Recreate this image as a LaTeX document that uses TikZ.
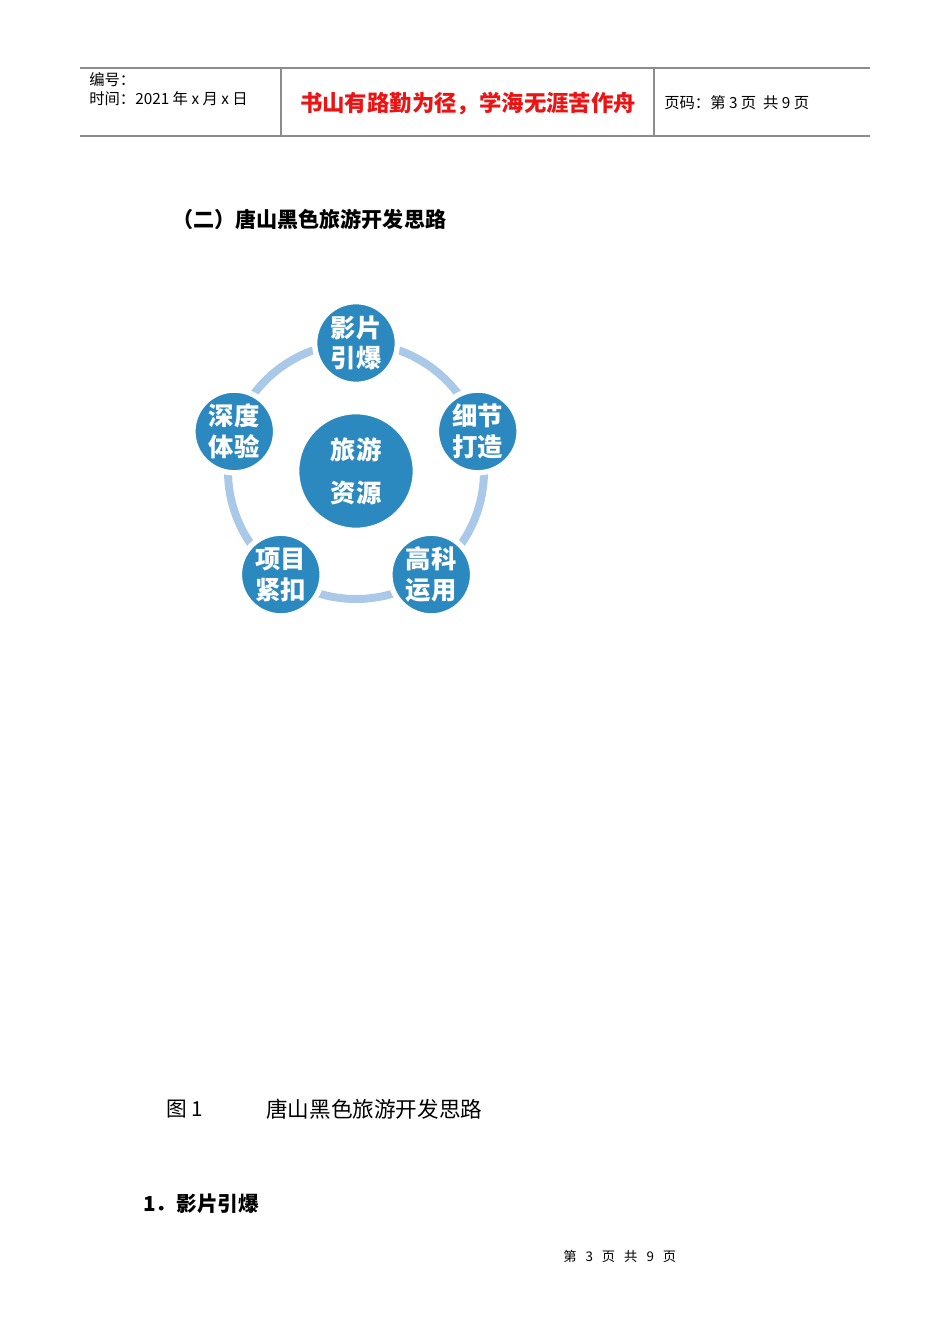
\documentclass[tikz,border=0pt]{standalone}
\usepackage{fontspec}
\setmainfont{Noto Sans CJK SC}
\usetikzlibrary{calc}
\definecolor{petalblue}{RGB}{44,137,192}
\definecolor{ringblue}{RGB}{170,200,232}
\definecolor{rulegrey}{RGB}{140,140,140}
\definecolor{mottored}{RGB}{235,20,20}
\tikzset{
	petal/.style={circle, fill=petalblue, draw=white, line width=4, minimum size=62pt, inner sep=0pt,
		text=white, align=center, font=\fontsize{19}{23}\selectfont\bfseries},
	hub/.style={circle, fill=petalblue, draw=white, line width=2, minimum size=87pt, inner sep=0pt,
		text=white, align=center, font=\fontsize{19}{32}\selectfont\bfseries},
	plain/.style={anchor=west, inner sep=0pt}
}
\begin{document}
\begin{tikzpicture}[x=0.75pt, y=-0.75pt]
		\useasboundingbox (0,0) rectangle (950,1344);
		% header
		\draw[rulegrey, line width=0.8] (80,68) -- (870,68);
		\draw[rulegrey, line width=1.5] (80,136) -- (870,136);
		\draw[rulegrey, line width=0.8] (281,68) -- (281,136);
		\draw[rulegrey, line width=0.8] (654,68) -- (654,136);
		\node[plain, font=\fontsize{11.5}{13}\selectfont] (num) at (89,80) {编号：};
		\node[plain, font=\fontsize{11.5}{13}\selectfont] (date) at (89,99) {时间：2021\ 年\ x\ 月\ x\ 日};
		\node[inner sep=0pt, text=mottored, font=\fontsize{16.8}{19}\selectfont\bfseries] (motto) at (468,104) {书山有路勤为径，学海无涯苦作舟};
		\node[plain, font=\fontsize{11.5}{13}\selectfont] (page) at (664,103) {页码：第 3 页\ \ 共 9 页};
		% title
		\node[plain, font=\fontsize{15.8}{18}\selectfont\bfseries] (title) at (172,219) {（二）唐山黑色旅游开发思路};
		% diagram
		\coordinate (c) at (356,471);
		\draw[ringblue, line width=6] (c) circle (128);
		\node[hub] (hub) at (c) {旅游\\资源};
		\foreach \txt [count=\i] in {影片\\引爆, 细节\\打造, 高科\\运用, 项目\\紧扣, 深度\\体验} {
			\node[petal] (p-\i) at ($(c)+({72*\i-162}:128)$) {\txt};
		}
		% caption and text
		\node[plain, font=\fontsize{15.5}{18}\selectfont] (fig) at (166,1109) {图 1};
		\node[plain, font=\fontsize{16.2}{18}\selectfont] (cap) at (266,1109) {唐山黑色旅游开发思路};
		\node[plain, font=\fontsize{15.5}{18}\selectfont\bfseries] (sec) at (143,1204) {1．影片引爆};
		\node[plain, font=\fontsize{10}{12}\selectfont] (foot) at (563,1256) {第\ \ \ 3\ \ \ 页\ \ \ 共\ \ \ 9\ \ \ 页};
	\end{tikzpicture}
\end{document}
